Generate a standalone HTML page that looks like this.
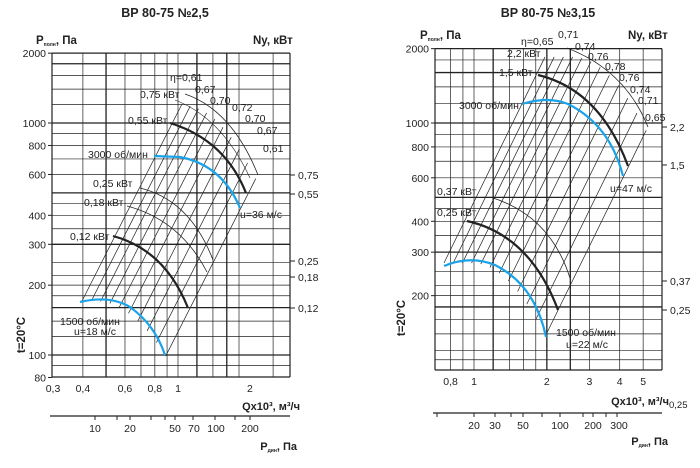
<!DOCTYPE html>
<html><head><meta charset="utf-8"><style>
body{margin:0;background:#fff;width:700px;height:463px;overflow:hidden}
svg{font-family:"Liberation Sans",sans-serif}
</style></head><body>
<svg id="s" width="700" height="463" viewBox="0 0 700 463" xmlns="http://www.w3.org/2000/svg">
<rect width="700" height="463" fill="#fff"/>
<g id="g"></g>
<g font-size="10.5" fill="#222">
<text x="165" y="17" font-size="12.5" font-weight="bold" text-anchor="middle">ВР 80-75 №2,5</text>
<text x="36" y="44" font-size="11.5" font-weight="bold">P<tspan font-size="5" dy="2">полн</tspan><tspan dy="-2">, Па</tspan></text>
<text x="253" y="44" font-size="11.5" font-weight="bold">Ny, кВт</text>
<text x="548" y="17" font-size="12.5" font-weight="bold" text-anchor="middle">ВР 80-75 №3,15</text>
<text x="420" y="39" font-size="11.5" font-weight="bold">P<tspan font-size="5" dy="2">полн</tspan><tspan dy="-2">, Па</tspan></text>
<text x="628" y="39" font-size="11.5" font-weight="bold">Ny, кВт</text>
<text x="300" y="410" font-size="11" font-weight="bold" text-anchor="end">Qx10³, м³/ч</text>
<text x="297" y="450" font-size="11" font-weight="bold" text-anchor="end">P<tspan font-size="5" dy="2">дин</tspan><tspan dy="-2">, Па</tspan></text>
<text x="669" y="405" font-size="11" font-weight="bold" text-anchor="end">Qx10³, м³/ч</text>
<text x="669" y="408" font-size="9.5">0,25</text>
<text x="668" y="445" font-size="11" font-weight="bold" text-anchor="end">P<tspan font-size="5" dy="2">дин</tspan><tspan dy="-2">, Па</tspan></text>
<text transform="translate(25,335) rotate(-90)" font-size="11.5" font-weight="bold" text-anchor="middle">t=20°C</text>
<text transform="translate(405,318) rotate(-90)" font-size="11.5" font-weight="bold" text-anchor="middle">t=20°C</text>
</g>
<g id="t" font-size="10.5" fill="#222"></g>
</svg>
<script>
const g=document.getElementById('g'),T=document.getElementById('t');
function L(x1,y1,x2,y2,w,c){g.insertAdjacentHTML('beforeend',`<line x1="${x1}" y1="${y1}" x2="${x2}" y2="${y2}" stroke="${c||'#222'}" stroke-width="${w||0.7}"/>`)}
function P(d,w,c){g.insertAdjacentHTML('beforeend',`<path d="${d}" fill="none" stroke="${c||'#222'}" stroke-width="${w||0.7}"/>`)}
function X(x,y,s,a){T.insertAdjacentHTML('beforeend',`<text x="${x}" y="${y}" text-anchor="${a||'start'}">${s}</text>`)}
function chart(o){
 const fx=q=>o.x1+o.xd*Math.log10(q/o.q0), fy=p=>o.y1000-o.yd*Math.log10(p/1000);
 const top=fy(2000),bot=o.ybot;
 o.h.forEach(p=>{const b=o.hb.includes(p);L(o.x0,fy(p),o.xe,fy(p),b?1.3:0.7)});
 o.v.forEach(q=>{const b=o.vb.includes(q);L(fx(q),top,fx(q),bot,b?1.3:0.7)});
 L(o.x0,top,o.x0,bot,1.2);L(o.xe,top,o.xe,bot,1.2);L(o.x0,bot,o.xe,bot,1.2);L(o.x0,top,o.xe,top,1.2);
 o.yl.forEach(p=>{L(o.x0-4,fy(p),o.x0,fy(p),1);X(o.x0-6,fy(p)+4,p,'end')});
 o.xl.forEach(([q,s])=>X(fx(q),o.ybot+15,s,'middle'));
 o.rt.forEach(([y,s])=>{L(o.xe,y,o.xe+5,y,1);X(o.xe+8,y+4,s)});
 L(o.x0-2,o.pay,o.xe,o.pay,1.2);
 o.pt.forEach(x=>L(x,o.pay,x,o.pay+4,1));
 o.pl.forEach(([x,s])=>X(x,o.pay+16,s,'middle'));
}
chart({x0:52,xe:290,x1:178,q0:1,xd:239,y1000:123,yd:232,ybot:377,
 h:[1800,1600,1400,1200,1000,900,800,700,600,500,450,400,350,300,250,220,200,180,160,140,120,100,90],hb:[1800,1000,500,300,160,100],
 v:[0.4,0.5,0.6,0.7,0.8,0.9,1,1.2,1.4,1.6,1.8,2.5],vb:[0.5,1.2,1.6],
 yl:[2000,1000,800,600,400,300,200,100,80],
 xl:[[0.3,'0,3'],[0.4,'0,4'],[0.6,'0,6'],[0.8,'0,8'],[1,'1'],[2,'2']],
 rt:[[175,'0,75'],[194,'0,55'],[261,'0,25'],[277,'0,18'],[308,'0,12']],
 pay:416,pt:[95,117,130,151,165,175,193,215,235,250],pl:[[95,'10'],[130,'20'],[175,'50'],[194,'70'],[216,'100'],[250,'200']]});
chart({x0:435,xe:662,x1:474,q0:1,xd:242,y1000:123,yd:247,ybot:370,
 h:[1800,1600,1400,1200,1000,900,800,700,600,500,450,400,350,300,250,220,200,180,160,140,120,110],hb:[1600,1000,500,300,180],
 v:[0.8,0.9,1,1.2,1.4,1.6,1.8,2,2.5,3,4,5],vb:[1.2,2,2.5],
 yl:[2000,1000,800,600,400,300,200],
 xl:[[0.8,'0,8'],[1,'1'],[2,'2'],[3,'3'],[4,'4'],[5,'5']],
 rt:[[127,'2,2'],[165,'1,5'],[281,'0,37'],[310,'0,25']],
 pay:413,pt:[437,474,495,511,523,542,560,583,593,606,617],pl:[[474,'20'],[495,'30'],[523,'50'],[560,'100'],[593,'200'],[619,'300']]});
for(let i=0;i<10;i++){const x=82+i*9.3;let y=x<95?301:301+54*Math.pow((x-95)/70,2);const dx=100-i*1.1;L(x,y,x+dx,y-dx*1.97)}
for(let i=0;i<12;i++){const x=444+i*9.2;let y=x<472?263:263+75*Math.pow((x-472)/74,2);const dx=101;L(x,y,x+dx,y-dx*2.04)}
P('M185,94 Q232,110 258,175',0.8);P('M175,100 Q222,118 250,178',0.6);
P('M140,188 Q190,200 213,260',0.8);P('M127,206 Q180,220 207,272',0.8);
P('M170,123 Q225,140 246,193',2.2);P('M113,236 Q165,250 188,308',2.2);
P('M154,156 L180,157 Q222,165 240,208',2.2,'#1aa3e8');P('M80,302 Q110,295 130,307 Q155,325 165,355',2.2,'#1aa3e8');
P('M567,48 Q625,70 648,127',0.8);P('M490,197 Q550,215 570,278',0.8);
P('M538,75 Q600,90 628,166',2.2);P('M467,221 Q530,235 558,310',2.2);
P('M522,104 Q548,96 568,104 Q610,125 623,176',2.2,'#1aa3e8');P('M444,266 Q470,255 495,265 Q535,285 546,337',2.2,'#1aa3e8');
X(170,81,'η=0,61');X(195,93,'0,67');X(210,104,'0,70');X(232,111,'0,72');X(245,122,'0,70');X(257,134,'0,67');X(263,152,'0,61');
X(140,98,'0,75 кВт');X(128,124,'0,55 кВт');X(88,158,'3000 об/мин');X(93,187,'0,25 кВт');X(84,206,'0,18 кВт');X(70,240,'0,12 кВт');
X(60,325,'1500 об/мин');X(74,335,'u=18 м/с');X(240,218,'u=36 м/с');
X(521,45,'η=0,65');X(558,38,'0,71');X(575,50,'0,74');X(588,60,'0,76');X(605,70,'0,78');X(619,81,'0,76');X(630,93,'0,74');X(638,104,'0,71');X(645,121,'0,65');
X(507,57,'2,2 кВт');X(499,76,'1,5 кВт');X(459,109,'3000 об/мин');X(610,192,'u=47 м/с');
X(437,195,'0,37 кВт');X(437,216,'0,25 кВт');X(556,336,'1500 об/мин');X(566,348,'u=22 м/с');
</script>
</body></html>
